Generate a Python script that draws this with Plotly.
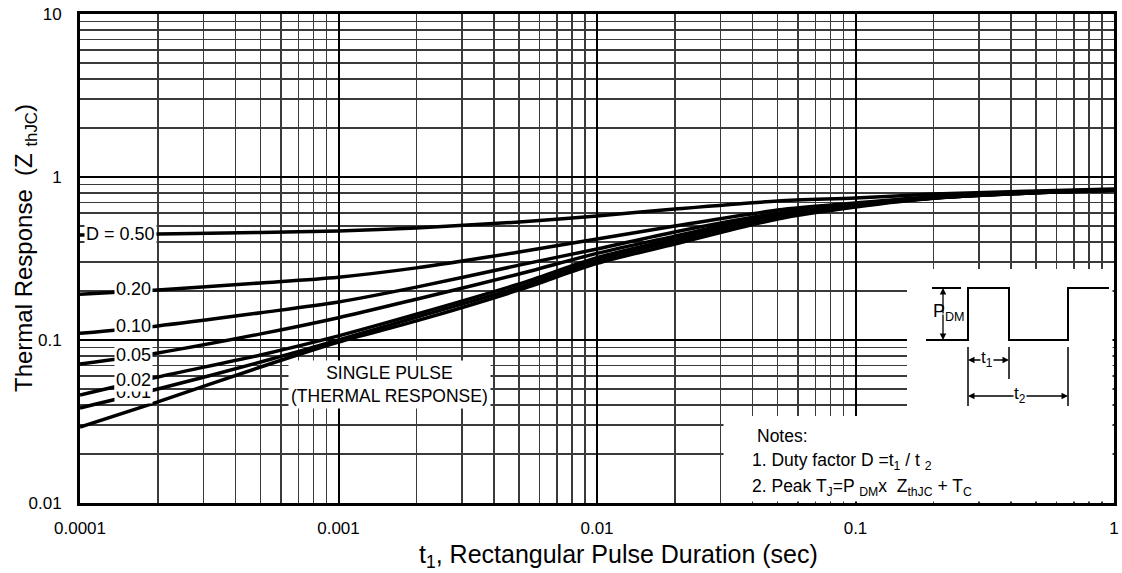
import plotly.graph_objects as go

# ---------------- data ----------------
t_sec = [1e-4, 2e-4, 5e-4, 1e-3, 2e-3, 5e-3, 1e-2, 2e-2, 5e-2, 0.1, 0.2, 0.5, 1.0]
z_d050 = [0.441, 0.447, 0.457, 0.466, 0.487, 0.530, 0.577, 0.636, 0.712, 0.743, 0.786, 0.821, 0.844]
z_d020 = [0.191, 0.203, 0.224, 0.243, 0.277, 0.347, 0.417, 0.500, 0.627, 0.693, 0.757, 0.812, 0.836]
z_d010 = [0.110, 0.122, 0.147, 0.171, 0.211, 0.288, 0.362, 0.460, 0.600, 0.683, 0.748, 0.806, 0.833]
z_d005 = [0.0713, 0.0833, 0.109, 0.137, 0.178, 0.254, 0.340, 0.434, 0.593, 0.676, 0.744, 0.803, 0.831]
z_d002 = [0.046, 0.0593, 0.081, 0.106, 0.144, 0.221, 0.320, 0.417, 0.576, 0.670, 0.742, 0.801, 0.830]
z_d001 = [0.0383, 0.050, 0.0733, 0.100, 0.138, 0.211, 0.308, 0.405, 0.568, 0.664, 0.741, 0.800, 0.830]
z_single = [0.0292, 0.0417, 0.0683, 0.0972, 0.131, 0.203, 0.295, 0.388, 0.553, 0.654, 0.740, 0.800, 0.830]

series = [z_d050, z_d020, z_d010, z_d005, z_d002, z_d001, z_single]
series_names = ["D = 0.50", "0.20", "0.10", "0.05", "0.02", "0.01", "Single pulse"]

x_tickvals = [1e-4, 1e-3, 1e-2, 1e-1, 1]
x_ticktext = ["0.0001", "0.001", "0.01", "0.1", "1"]
y_tickvals = [0.01, 0.1, 1, 10]
y_ticktext = ["0.01", "0.1", "1", "10"]

FONT = "Liberation Sans, Arial, Helvetica, sans-serif"

W, H = 1122, 573
PLOT_L, PLOT_R, PLOT_T, PLOT_B = 80, 1114, 14, 503          # pixels of plot area
ML, MT, MR, MB = PLOT_L, PLOT_T, W - PLOT_R, H - PLOT_B
PW, PH = PLOT_R - PLOT_L, PLOT_B - PLOT_T


def px(x):
    return (x - PLOT_L) / PW


def py(y):
    return (PLOT_B - y) / PH


fig = go.Figure()
for z, name in zip(series, series_names):
    fig.add_trace(go.Scatter(
        x=t_sec, y=z, mode="lines", name=name,
        line=dict(color="black", width=3.5, shape="spline", smoothing=0.8),
        showlegend=False, hoverinfo="skip"))

axis_common = dict(
    type="log", showline=True, linewidth=3, linecolor="black", mirror=True,
    showgrid=True, gridcolor="black", gridwidth=2, automargin=False,
    ticks="", tickfont=dict(family=FONT, size=17, color="black"),
    ticklabeloverflow="allow",
    minor=dict(dtick="D1", showgrid=True, gridcolor="#3a3a3a", gridwidth=1.5, ticks=""),
)

fig.update_xaxes(range=[-4, 0], tickvals=x_tickvals, ticktext=x_ticktext,
                 ticklabelstandoff=8, **axis_common)
fig.update_yaxes(range=[-2, 1], tickvals=y_tickvals, ticktext=y_ticktext,
                 ticklabelstandoff=12, **axis_common)

shapes = []
# white areas behind inset diagram and notes
shapes.append(dict(type="rect", xref="paper", yref="paper", x0=px(907), x1=px(1112.5),
                   y0=py(416.5), y1=py(269), fillcolor="white", line=dict(width=0), layer="above"))
shapes.append(dict(type="rect", xref="paper", yref="paper", x0=px(723.5), x1=px(1112.5),
                   y0=py(501.5), y1=py(416), fillcolor="white", line=dict(width=0), layer="above"))


def seg(x0, y0, x1, y1, w=2):
    return dict(type="line", xref="paper", yref="paper", x0=px(x0), y0=py(y0), x1=px(x1), y1=py(y1),
                line=dict(color="black", width=w), layer="above")


# pulse waveform
pulse_pts = [(926, 340), (968, 340), (968, 288), (1009, 288), (1009, 340), (1068, 340), (1068, 288), (1109, 288)]
path = "M " + " L ".join(f"{px(a):.5f},{py(b):.5f}" for a, b in pulse_pts)
shapes.append(dict(type="path", xref="paper", yref="paper", path=path,
                   line=dict(color="black", width=2), layer="above"))
shapes.append(seg(932, 288, 961, 288))
# extension lines
shapes.append(seg(968, 347, 968, 406, 1.5))
shapes.append(seg(1009, 347, 1009, 379, 1.5))
shapes.append(seg(1068, 347, 1068, 406, 1.5))

annotations = []


def arrow(xh, yh, ax, ay):
    annotations.append(dict(xref="paper", yref="paper", x=px(xh), y=py(yh), text="",
                            showarrow=True, arrowhead=2, arrowsize=1, arrowwidth=1.3,
                            arrowcolor="black", ax=ax, ay=ay))


arrow(943, 288, 0, 27)
arrow(943, 340, 0, -27)
arrow(968, 360, 21, 0)
arrow(1009, 360, -21, 0)
arrow(968, 396, 50, 0)
arrow(1068, 396, -50, 0)


def label(x, y, text, size=18, bg=None, xanchor="center", align="center", pad=1):
    d = dict(xref="paper", yref="paper", x=px(x), y=py(y), text=text, showarrow=False,
             font=dict(family=FONT, size=size, color="black"), xanchor=xanchor,
             yanchor="middle", align=align, borderpad=pad)
    if bg:
        d["bgcolor"] = bg
    annotations.append(d)


label(949, 312, "P<sub>DM</sub>", size=18)
label(987, 359, "t<sub>1</sub>", size=17, bg="white", pad=0)
label(1020, 395, "t<sub>2</sub>", size=17, bg="white", pad=0)

# curve labels
label(120, 234, "D = 0.50", bg="white")
label(133, 392, "0.01", bg="white")
label(133, 380, "0.02", bg="white")
label(133, 355, "0.05", bg="white")
label(133, 326, "0.10", bg="white")
label(133, 289, "0.20", bg="white")

label(389, 384, "SINGLE PULSE<br>(THERMAL RESPONSE)", size=17.5, bg="white", pad=2)

# notes
label(755, 436, "Notes:", size=17.5, xanchor="left", align="left")
label(750, 461, "1. Duty factor D =t<sub>1</sub> / t <sub>2</sub>", size=17.5, xanchor="left", align="left")
label(750, 487, "2. Peak T<sub>J</sub>=P <sub>DM</sub>x \u00a0Z<sub>thJC</sub> + T<sub>C</sub>", size=17.5,
      xanchor="left", align="left")

# axis titles
label(618, 556, "t<sub>1</sub>, Rectangular Pulse Duration (sec)", size=25)
annotations.append(dict(xref="paper", yref="paper", x=px(25), y=py(248),
                        text="Thermal Response \u00a0(Z <sub>thJC</sub>)", showarrow=False,
                        textangle=-90, font=dict(family=FONT, size=24, color="black"),
                        xanchor="center", yanchor="middle"))

fig.update_layout(
    width=W, height=H, margin=dict(l=ML, r=MR, t=MT, b=MB, autoexpand=False),
    paper_bgcolor="white", plot_bgcolor="white",
    shapes=shapes, annotations=annotations, showlegend=False,
)

fig.write_html(
    "out.html",
    config={"displayModeBar": False, "staticPlot": True},
    post_script="document.body.style.margin='0px';document.body.style.overflow='hidden';",
)
